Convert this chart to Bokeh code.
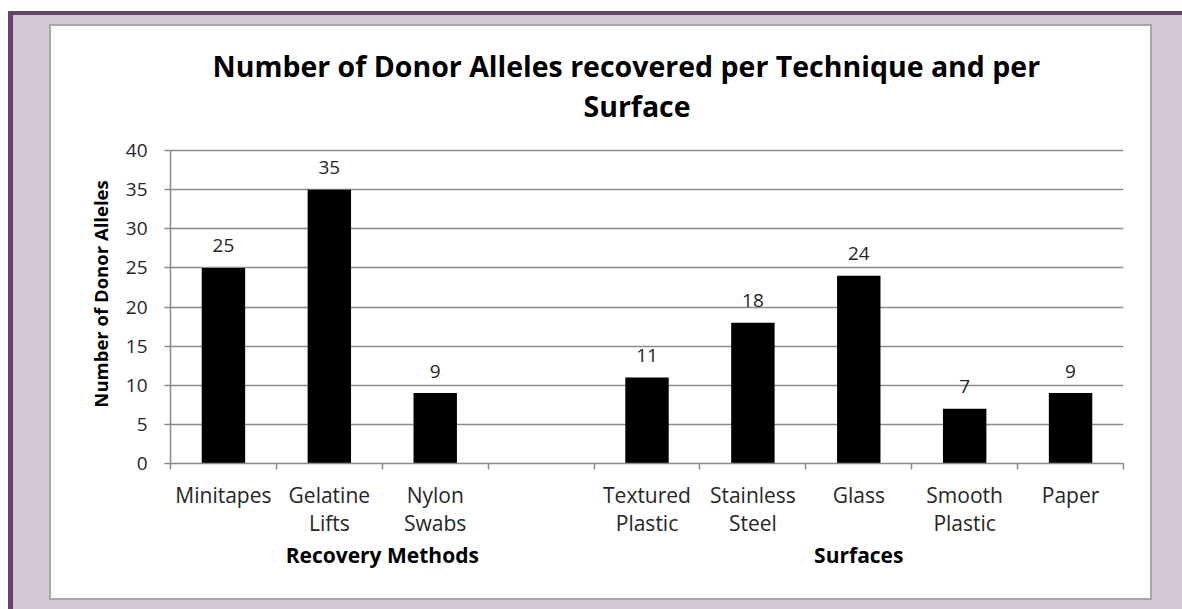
from bokeh.plotting import figure
from bokeh.models import Range1d, LinearAxis, FixedTicker, Title
from bokeh.layouts import column
from bokeh.embed import file_html
from bokeh.resources import INLINE
from bokeh.core.properties import value

# ---------------- data ----------------
title_lines = ["Number of Donor Alleles recovered per Technique and per", "Surface"]
y_label = "Number of Donor Alleles"
groups = ["Recovery Methods", "Surfaces"]
methods = ["Minitapes", "Gelatine\nLifts", "Nylon\nSwabs"]
method_values = [25, 35, 9]
surfaces = ["Textured\nPlastic", "Stainless\nSteel", "Glass", "Smooth\nPlastic", "Paper"]
surface_values = [11, 18, 24, 7, 9]
y_ticks = [0, 5, 10, 15, 20, 25, 30, 35, 40]

# ---------------- build ----------------
FONT = "Open Sans"
DARK = "#65436a"
LAV = "#d4c7d6"
GRID = "#8a8a8a"
TXT = "#262626"

# slots: the methods, one empty spacer slot, then the surfaces
slot_names = methods + [""] + surfaces
n_slots = len(slot_names)
centers = [i + 0.5 for i in range(n_slots)]
bar_names = methods + surfaces
bar_x = [centers[slot_names.index(nm)] for nm in bar_names]
bar_top = method_values + surface_values
group_sizes = [len(methods) + 1, len(surfaces)]
group_centers = [sum(group_sizes[:i]) + group_sizes[i] / 2 for i in range(len(groups))]

# layout geometry (pixels): frame extends above the top gridline,
# the y axis line is bounded to the tick range
PAD_TOP = 18
FRAME_TOP_PX, GRID_TOP_PX, AXIS_PX = 126, 152, 463
y_top = y_ticks[-1] * (AXIS_PX - FRAME_TOP_PX) / (AXIS_PX - GRID_TOP_PX)

W, H = 1099, 572 - PAD_TOP
p = figure(width=W, height=H,
           x_range=Range1d(0, n_slots),
           y_range=Range1d(y_ticks[0], y_top),
           output_backend="svg", toolbar_location=None,
           x_axis_location=None,
           min_border_left=119, min_border_right=27,
           min_border_top=0, min_border_bottom=135)

p.border_fill_color = "white"
p.background_fill_color = "white"
p.outline_line_color = None

# title: two lines
def style_title(t):
    t.align = "left"
    t.text_font = FONT
    t.text_font_size = "28.5px"
    t.text_font_style = "bold"
    t.text_color = "black"
p.title.text = title_lines[0]
style_title(p.title)
p.title.offset = 42
p.title.standoff = 0
t2 = Title(text=title_lines[1])
style_title(t2)
t2.offset = 413
t2.standoff = 0
p.add_layout(t2, "above")

# bars
p.vbar(x=bar_x, top=bar_top, width=0.41, fill_color="black", line_color=None)
p.text(x=bar_x, y=bar_top, text=[str(v) for v in bar_top],
       text_align="center", text_baseline="alphabetic", y_offset=-22,
       text_font=value(FONT), text_font_size="19px", text_color=TXT)

# y axis
yax = p.yaxis[0]
yax.ticker = FixedTicker(ticks=y_ticks)
yax.bounds = (y_ticks[0], y_ticks[-1])
yax.axis_line_color = GRID
yax.axis_line_width = 1.5
yax.major_tick_line_color = GRID
yax.major_tick_line_width = 1.5
yax.major_tick_out = 6
yax.major_tick_in = 0
yax.minor_tick_line_color = None
yax.major_label_text_font = FONT
yax.major_label_text_font_size = "19px"
yax.major_label_text_color = TXT
yax.major_label_standoff = 17
yax.axis_label = y_label
yax.axis_label_text_font = FONT
yax.axis_label_text_font_size = "18.5px"
yax.axis_label_text_font_style = "bold"
yax.axis_label_text_color = "black"
yax.axis_label_standoff = 10

p.xgrid.grid_line_color = None
p.ygrid.grid_line_color = GRID
p.ygrid.grid_line_width = 1.5
p.ygrid.ticker = FixedTicker(ticks=y_ticks)

# x axis: names at slot centres, tick marks (minor) at slot boundaries
name_axis = LinearAxis(ticker=FixedTicker(ticks=bar_x,
                                          minor_ticks=list(range(n_slots + 1))),
                       major_label_overrides={c: nm for c, nm in zip(bar_x, bar_names)},
                       axis_line_color=GRID, axis_line_width=1.5,
                       major_tick_line_color=None, major_tick_out=0, major_tick_in=0,
                       minor_tick_line_color=GRID, minor_tick_line_width=1.5,
                       minor_tick_out=6, minor_tick_in=0,
                       major_label_text_font=FONT,
                       major_label_text_font_size="21px",
                       major_label_text_line_height=1.0,
                       major_label_text_color=TXT,
                       major_label_standoff=11)
group_axis = LinearAxis(ticker=FixedTicker(ticks=group_centers, minor_ticks=[]),
                        major_label_overrides={c: g for c, g in zip(group_centers, groups)},
                        axis_line_color=None, major_tick_line_color=None,
                        major_tick_out=0, major_tick_in=0,
                        minor_tick_line_color=None, minor_tick_out=0,
                        major_label_text_font=FONT,
                        major_label_text_font_size="21px",
                        major_label_text_font_style="bold",
                        major_label_text_color="black",
                        major_label_standoff=1)
p.add_layout(name_axis, "below")
p.add_layout(group_axis, "below")

inner = column(p, styles={"border": "2px solid #a6a6a6",
                          "background-color": "white",
                          "padding-top": "%dpx" % PAD_TOP})
page = column(inner, styles={"background-color": LAV,
                             "margin-top": "11px",
                             "margin-left": "8px",
                             "border-top": "4px solid " + DARK,
                             "border-left": "5px solid " + DARK,
                             "padding": "9px 30px 9px 36px"})

open("out.html", "w").write(file_html(page, INLINE))
